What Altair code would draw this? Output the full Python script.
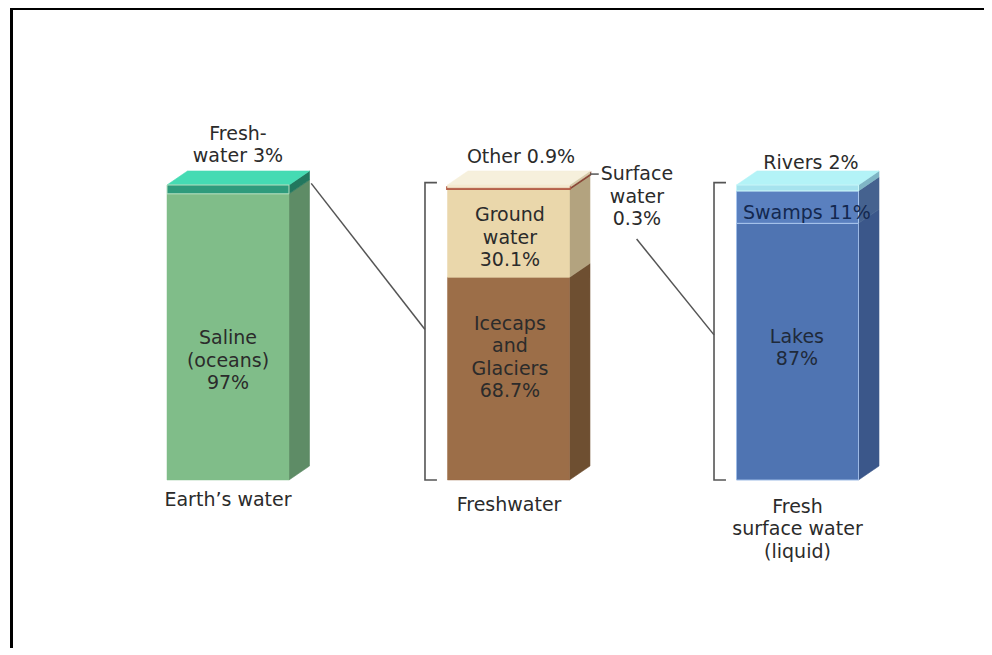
import altair as alt
import pandas as pd

# ---------------- data ----------------
bar_titles = ["Earth’s water", "Freshwater", "Fresh\nsurface water\n(liquid)"]

earth_parts = ["Saline (oceans)", "Freshwater"]
earth_values = [97, 3]

fresh_parts = ["Icecaps and Glaciers", "Ground water", "Surface water", "Other"]
fresh_values = [68.7, 30.1, 0.3, 0.9]

surface_parts = ["Lakes", "Swamps", "Rivers"]
surface_values = [87, 11, 2]

label_texts = [
    "Fresh-\nwater 3%",
    "Saline\n(oceans)\n97%",
    "Other 0.9%",
    "Ground\nwater\n30.1%",
    "Icecaps\nand\nGlaciers\n68.7%",
    "Surface\nwater\n0.3%",
    "Rivers 2%",
    "Swamps 11%",
    "Lakes\n87%",
]

# ---------------- styles / layout ----------------
front_colors = [["#80bd89", "#2f9b7c"],
                ["#9c6e48", "#ead7ab", "#b5614a", "#f4ead0"],
                ["#4f74b2", "#5a80bf", "#a6e3ee"]]
front_strokes = [["#80bd89", "#b6e0bf"],
                 ["#9c6e48", "#ead7ab", "#b5614a", "#f4ead0"],
                 ["#9dbbe6", "#a9c6ee", "#c9f6f8"]]
front_sw = [[0.5, 1.0], [0.5, 0.5, 2.8, 0.5], [1.0, 1.0, 1.0]]
side_colors = [["#5e8c66", "#22775e"],
               ["#6e4f31", "#b3a37f", "#8a4838", "#d6cbab"],
               ["#3b578a", "#45628f", "#7fb5c5"]]
side_sw = [[0.6, 0.6], [0.6, 0.6, 2.6, 0.6], [0.6, 0.6, 0.6]]
top_colors = ["#45dbb3", "#f6f0dc", "#b3f3f7"]

W, H = 976, 640
SLOT_PX = 284.75      # px per x unit
X0_PX = 220           # svg x of unit 0
Y0_PX = 472           # svg y of 0 %
PCT_PX = 2.95         # px per percent
BAR_X = [0.0, 0.985, 2.0]
HALF = 0.2142
DX = 0.072
DY = 4.75
BR_OFF = 0.079
BR_TICK = 0.042
BR_TOP = 100.8

# position of the first line of each label (x units, percent)
label_pos = [(0.035, 117.3), (0.0, 48.1), (1.029, 109.5), (0.99, 89.8),
             (0.99, 52.9), (1.436, 103.7), (2.047, 107.5), (2.033, 90.5),
             (1.998, 48.5)]
label_colors = ["#2b2b2b"] * 7 + ["#13284f", "#1f2a3a"]
title_pos = [(0.0, -6.9), (0.987, -8.5), (2.0, -9.0)]

x_dom = [-X0_PX / SLOT_PX, (W - X0_PX) / SLOT_PX]
y_dom = [(Y0_PX - H) / PCT_PX, Y0_PX / PCT_PX]
xs = alt.Scale(domain=x_dom, nice=False, zero=False)
ys = alt.Scale(domain=y_dom, nice=False, zero=False)

# ---------------- build tables ----------------
bars = [(earth_parts, earth_values), (fresh_parts, fresh_values),
        (surface_parts, surface_values)]
front_rows, face_rows = [], []
for i, (parts, vals) in enumerate(bars):
    cx = BAR_X[i]
    lo = 0.0
    for j, (p, v) in enumerate(zip(parts, vals)):
        hi = lo + v
        front_rows.append(dict(name=p, x=cx - HALF, x2=cx + HALF, y=lo, y2=hi,
                               fill=front_colors[i][j], stroke=front_strokes[i][j],
                               sw=front_sw[i][j]))
        fid = f"side-{i}-{j}"
        face_rows.append(dict(face=fid, x=cx + HALF, y=lo, y2=hi,
                              fill=side_colors[i][j], sw=side_sw[i][j]))
        face_rows.append(dict(face=fid, x=cx + HALF + DX, y=lo + DY, y2=hi + DY,
                              fill=side_colors[i][j], sw=side_sw[i][j]))
        lo = hi
    top = lo
    fid = f"top-{i}"
    xl, xr = cx - HALF, cx + HALF
    for (xx, a, b) in [(xl, top, top), (xl + DX, top, top + DY),
                       (xr, top, top + DY), (xr + DX, top + DY, top + DY)]:
        face_rows.append(dict(face=fid, x=xx, y=a, y2=b, fill=top_colors[i], sw=0.6))

fronts = pd.DataFrame(front_rows)
faces = pd.DataFrame(face_rows)

# brackets around bars 2 and 3
br_rows = []
for i in (1, 2):
    bx = BAR_X[i] - HALF - BR_OFF
    for k, (xx, yy) in enumerate([(bx + BR_TICK, BR_TOP), (bx, BR_TOP),
                                  (bx, 0), (bx + BR_TICK, 0)]):
        br_rows.append(dict(id=f"br{i}", x=xx, y=yy, o=k))
brackets = pd.DataFrame(br_rows)

# connector lines
b1_back = BAR_X[0] + HALF + DX
b2_back = BAR_X[1] + HALF + DX
surf_lo = fresh_values[0] + fresh_values[1]
con_rows = [
    dict(id="c1", x=b1_back + 0.006, y=earth_values[0] + 0.75 * DY, o=0),
    dict(id="c1", x=BAR_X[1] - HALF - BR_OFF, y=51.0, o=1),
    dict(id="c2", x=1.435, y=81.7, o=0),
    dict(id="c2", x=BAR_X[2] - HALF - BR_OFF, y=49.2, o=1),
    dict(id="c3", x=b2_back, y=surf_lo + DY + 0.15, o=0),
    dict(id="c3", x=1.302, y=surf_lo + DY + 0.15, o=1),
]
connectors = pd.DataFrame(con_rows)

labels = pd.DataFrame(dict(
    text=label_texts + bar_titles,
    x=[p[0] for p in label_pos] + [p[0] for p in title_pos],
    y=[p[1] for p in label_pos] + [p[1] for p in title_pos],
    color=label_colors + ["#2b2b2b"] * 3,
))

X = lambda f: alt.X(f, type="quantitative", scale=xs, axis=None)
Y = lambda f: alt.Y(f, type="quantitative", scale=ys, axis=None, stack=None)

front_layer = alt.Chart(fronts).mark_rect().encode(
    x=X("x"), x2="x2", y=Y("y"), y2="y2",
    fill=alt.Fill("fill:N", scale=None),
    stroke=alt.Stroke("stroke:N", scale=None),
    strokeWidth=alt.StrokeWidth("sw:Q", scale=None),
)

face_layer = alt.Chart(faces).mark_area(interpolate="linear").encode(
    x=X("x"), y=Y("y"), y2="y2",
    fill=alt.Fill("fill:N", scale=None),
    stroke=alt.Stroke("fill:N", scale=None),
    strokeWidth=alt.StrokeWidth("sw:Q", scale=None),
    detail="face:N",
)

bracket_layer = alt.Chart(brackets).mark_line(color="#555555", strokeWidth=1.6).encode(
    x=X("x"), y=Y("y"), detail="id:N", order="o:Q",
)

connector_layer = alt.Chart(connectors).mark_line(color="#555555", strokeWidth=1.5).encode(
    x=X("x"), y=Y("y"), detail="id:N", order="o:Q",
)

text_layer = alt.Chart(labels).mark_text(
    font="DejaVu Sans", fontSize=19, lineBreak="\n", lineHeight=22.5,
    align="center", baseline="middle",
).encode(
    x=X("x"), y=Y("y"), text="text:N",
    color=alt.Color("color:N", scale=None),
)

frame_top = alt.Chart(labels).mark_rule(color="black", strokeWidth=2.4).encode(
    x=alt.value(2.2), x2=alt.value(W), y=alt.value(0.8),
)
frame_left = alt.Chart(labels).mark_rule(color="black", strokeWidth=2.6).encode(
    x=alt.value(3.4), y=alt.value(0), y2=alt.value(H),
)

chart = alt.layer(
    face_layer, front_layer, bracket_layer, connector_layer, text_layer,
    frame_top, frame_left,
).properties(
    width=W, height=H, padding=0, autosize=alt.AutoSizeParams(type="none"),
    background="white",
).configure_view(stroke=None)

chart.save("out.html", embed_options={"renderer": "svg", "actions": False})
